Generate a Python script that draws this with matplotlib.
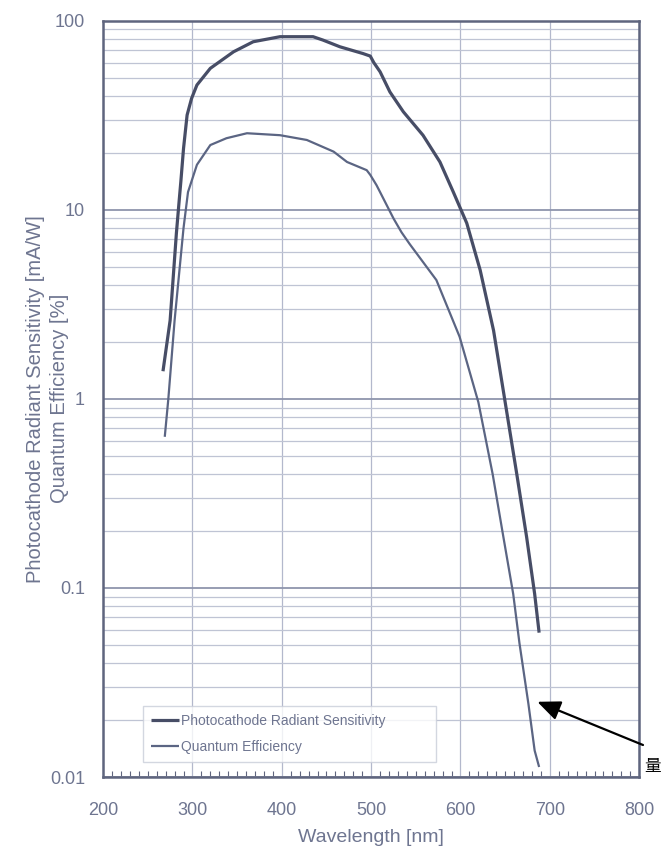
#!/usr/bin/env python3
"""
Spectral response of a photocathode: radiant sensitivity and quantum efficiency
versus wavelength, on a log scale.
"""

import matplotlib
matplotlib.use('Agg')
import matplotlib.pyplot as plt
from matplotlib.ticker import MultipleLocator, LogLocator, FixedLocator, FixedFormatter

# Photocathode radiant sensitivity [mA/W]
wavelength_rs = [267, 275, 282, 285, 287, 290, 294, 299, 305, 320, 346, 368, 398,
                 435, 446, 465, 491, 499, 503, 510, 521, 536, 558, 577, 592, 607,
                 622, 637, 650, 663, 674, 683, 688]
sensitivity = [1.4, 2.6, 7.5, 11.0, 14.1, 21.1, 31.7, 38.8, 45.7, 56, 68.5, 77.4, 82.3,
               82.3, 79, 72.8, 67, 65, 60, 53.7, 42, 33, 24.8, 17.9, 12.4, 8.5,
               4.8, 2.3, 0.96, 0.40, 0.186, 0.093, 0.058]

# Quantum efficiency [%]
wavelength_qe = [269, 273, 280, 290, 295, 305, 320, 338, 361, 398, 428, 458, 473,
                 495, 499, 506, 510, 525, 534, 543, 573, 599, 620, 636, 648,
                 659, 666, 676, 683, 688]
quantum_eff = [0.63, 1.0, 2.6, 8.0, 12.4, 17.3, 22, 23.9, 25.4, 24.8, 23.4, 20.3, 17.9,
               16.2, 15.3, 13.5, 12.4, 9.0, 7.6, 6.6, 4.25, 2.13, 0.96, 0.40, 0.186,
               0.093, 0.051, 0.0244, 0.0138, 0.0113]

y_ticks = [0.01, 0.1, 1, 10, 100]
y_tick_labels = ['0.01', '0.1', '1', '10', '100']

TEXT = '#6e7590'
FRAME = '#5f657e'
LINE_RS = '#474d66'
LINE_QE = '#5b6583'

plt.rcParams['font.family'] = ['Liberation Sans', 'DejaVu Sans']

fig = plt.figure(figsize=(6.61, 8.52), dpi=100)
ax = fig.add_axes([0.156, 0.088, 0.811, 0.8877])

ax.set_yscale('log')
ax.set_xlim(200, 800)
ax.set_ylim(0.01, 100)

# Curves
ax.plot(wavelength_rs, sensitivity, color=LINE_RS, linewidth=2.3,
        solid_capstyle='butt', label='Photocathode Radiant Sensitivity', zorder=3)
ax.plot(wavelength_qe, quantum_eff, color=LINE_QE, linewidth=1.6,
        solid_capstyle='butt', label='Quantum Efficiency', zorder=3)

# Grid: decades, log minors, and 100 nm verticals
ax.yaxis.set_major_locator(FixedLocator(y_ticks))
ax.yaxis.set_major_formatter(FixedFormatter(y_tick_labels))
ax.yaxis.set_minor_locator(LogLocator(base=10, subs=range(2, 10)))
ax.yaxis.set_minor_formatter(plt.NullFormatter())
ax.xaxis.set_major_locator(MultipleLocator(100))
ax.xaxis.set_minor_locator(MultipleLocator(10))

ax.grid(which='major', axis='y', color='#8f95ad', linewidth=1.3, zorder=1)
ax.grid(which='minor', axis='y', color='#bfc4d4', linewidth=0.9, zorder=1)
ax.grid(which='major', axis='x', color='#b3b8cc', linewidth=0.9, zorder=1)

ax.tick_params(axis='y', which='both', length=0, pad=13, labelsize=13, labelcolor=TEXT)
ax.tick_params(axis='x', which='major', length=0, pad=18, labelsize=13, labelcolor=TEXT)
ax.tick_params(axis='x', which='minor', direction='in', length=4, width=0.8, color=FRAME)

for side in ax.spines.values():
    side.set_color(FRAME)
    side.set_linewidth(1.8)

ax.set_xlabel('Wavelength [nm]', fontsize=14, color=TEXT, labelpad=7)
ax.set_ylabel('Photocathode Radiant Sensitivity [mA/W]\nQuantum Efficiency [%]',
              fontsize=14.5, color=TEXT, linespacing=1.3)
ax.yaxis.set_label_coords(-0.064, 0.5)

leg = ax.legend(loc='lower left', bbox_to_anchor=(0.0746, 0.0198, 0.546, 0.08),
                mode='expand', fontsize=10, frameon=True, fancybox=False,
                handlelength=2.0, handletextpad=0.1, borderpad=0.6, labelspacing=0.85,
                borderaxespad=0)
leg.get_frame().set_edgecolor('#c9cdd9')
leg.get_frame().set_linewidth(1.0)
for t in leg.get_texts():
    t.set_color(TEXT)

# Pointer to the tail of the QE curve
ax.annotate('', xy=(686, 0.025), xycoords='data',
            xytext=(643, 107), textcoords='figure pixels',
            arrowprops=dict(arrowstyle='-|>,head_length=1.4,head_width=0.6',
                            color='black', linewidth=1.6, shrinkA=0, shrinkB=0),
            annotation_clip=False, zorder=5)
fig.text(644 / 661, 86 / 852, '量', fontsize=12, color='black',
         family=['Noto Sans CJK SC', 'DejaVu Sans'], ha='left', va='center')

plt.savefig('out.png', dpi=100)
